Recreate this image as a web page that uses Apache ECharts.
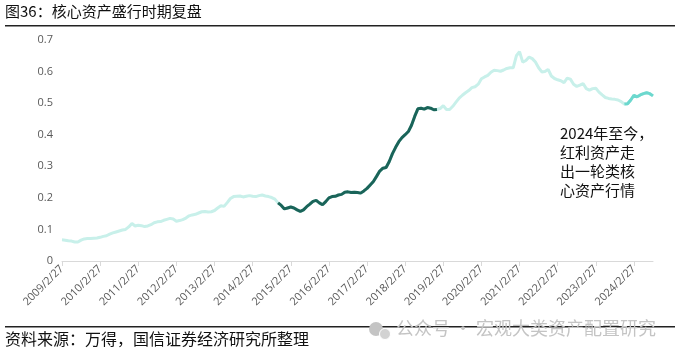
<!DOCTYPE html>
<html>
<head>
<meta charset="utf-8">
<script src="https://cdn.jsdelivr.net/npm/echarts@6/dist/echarts.min.js"></script>
<style>
html,body{margin:0;padding:0;background:#fff;}
#c{width:679px;height:360px;}
</style>
</head>
<body>
<div id="c"></div>
<script>
// Monthly observations, Feb 2009 – Aug 2024
var startYear = 2009, startMonth = 2, monthCount = 187;
var categories = [];
for (var i = 0; i < monthCount; i++) {
  var mm = startMonth - 1 + i;
  categories.push((startYear + Math.floor(mm / 12)) + '/' + (mm % 12 + 1) + '/27');
}
// 2009/2 – 2014/10 (index 0..68)
var early = [0.067,0.066,0.064,0.063,0.060,0.060,0.066,0.070,0.071,0.071,0.072,0.073,0.075,0.078,0.080,0.085,0.089,0.092,0.095,0.098,
  0.100,0.108,0.119,0.111,0.113,0.112,0.109,0.111,0.115,0.121,0.124,0.125,0.129,0.132,0.135,0.133,0.126,0.128,0.131,0.136,
  0.143,0.146,0.148,0.152,0.156,0.157,0.155,0.156,0.160,0.168,0.175,0.173,0.185,0.198,0.204,0.205,0.206,0.203,0.205,0.207,
  0.205,0.204,0.207,0.209,0.206,0.204,0.201,0.196,0.184];
// core-asset boom 2014/10 – 2018/12 (index 68..118)
var boom = [0.184,0.176,0.165,0.168,0.171,0.168,0.162,0.157,0.162,0.172,0.180,0.189,0.192,0.184,0.178,0.188,0.200,0.204,0.205,0.209,
  0.211,0.218,0.219,0.217,0.218,0.217,0.215,0.222,0.230,0.241,0.252,0.268,0.285,0.294,0.296,0.315,0.340,0.360,0.378,0.391,
  0.400,0.410,0.430,0.458,0.482,0.484,0.481,0.486,0.484,0.479,0.480];
// 2018/12 – 2023/11 (index 118..177)
var later = [0.480,0.483,0.492,0.480,0.480,0.490,0.503,0.516,0.525,0.533,0.540,0.549,0.552,0.560,0.577,0.583,0.588,0.598,0.604,0.603,
  0.601,0.605,0.610,0.612,0.612,0.650,0.663,0.630,0.635,0.646,0.641,0.630,0.612,0.599,0.600,0.607,0.586,0.578,0.574,0.571,
  0.565,0.579,0.576,0.560,0.553,0.557,0.562,0.546,0.541,0.546,0.547,0.535,0.526,0.518,0.515,0.513,0.512,0.510,0.505,0.497];
// 2023/11 – 2024/8 (index 177..186)
var recent = [0.497,0.498,0.510,0.525,0.520,0.526,0.530,0.533,0.530,0.523];

var boomStart = 68, recentStart = 177;
var allValues = early.concat(boom.slice(1), later.slice(1), recent.slice(1));
function pad(arr, start) {
  var out = [];
  for (var i = 0; i < monthCount; i++) {
    var j = i - start;
    out.push(j >= 0 && j < arr.length ? arr[j] : '-');
  }
  return out;
}

var chart = echarts.init(document.getElementById('c'));
var font = '"Noto Sans CJK SC", "Noto Sans", sans-serif';
chart.setOption({
  animation: false,
  textStyle: {fontFamily: font},
  grid: {left: 62, right: 26, top: 40, bottom: 99, containLabel: false},
  xAxis: {
    type: 'category',
    data: categories,
    boundaryGap: false,
    axisLine: {lineStyle: {color: '#d9d9d9', width: 1}},
    axisTick: {show: true, interval: 11, length: 5, lineStyle: {color: '#d9d9d9'}},
    axisLabel: {interval: 11, rotate: 45, color: '#595959', fontSize: 11, margin: 6, fontFamily: 'Open Sans, sans-serif'},
    splitLine: {show: false}
  },
  yAxis: {
    type: 'value',
    min: 0, max: 0.7, interval: 0.1,
    axisLine: {show: false},
    axisTick: {show: false},
    splitLine: {show: false},
    axisLabel: {color: '#595959', fontSize: 11, margin: 9, fontFamily: 'Open Sans, sans-serif'}
  },
  series: [
    {type: 'line', data: allValues, showSymbol: false, symbol: 'none', lineStyle: {color: '#c8f0ea', width: 3}, z: 1},
    {type: 'line', data: pad(boom, boomStart), showSymbol: false, symbol: 'none', lineStyle: {color: '#1a6459', width: 3}, z: 3},
    {type: 'line', data: pad(recent, recentStart), showSymbol: false, symbol: 'none', lineStyle: {color: '#6cd8ce', width: 3}, z: 3}
  ],
  graphic: [
    {type: 'text', left: 5, top: 4, style: {text: '图36：核心资产盛行时期复盘', font: '15px ' + font, fill: '#111'}},
    {type: 'rect', shape: {x: 5, y: 25, width: 670, height: 1.5}, style: {fill: '#222'}},
    {type: 'text', left: 560, top: 124, style: {text: '2024年至今，\n红利资产走\n出一轮类核\n心资产行情', font: '15px ' + font, fill: '#111', lineHeight: 19}},
    {type: 'rect', shape: {x: 5, y: 326, width: 670, height: 1.5}, style: {fill: '#222'}},
    {type: 'text', left: 5, top: 331, style: {text: '资料来源：万得，国信证券经济研究所整理', font: '16px ' + font, fill: '#111'}},
    {type: 'circle', shape: {cx: 376, cy: 329, r: 7}, style: {fill: '#c4c4c4'}},
    {type: 'circle', shape: {cx: 385, cy: 334, r: 5.5}, style: {fill: '#d2d2d2', stroke: '#fff', lineWidth: 1}},
    {type: 'text', left: 396, top: 319, style: {text: '公众号 · 宏观大类资产配置研究', font: '18px ' + font, fill: '#c4c4c4'}}
  ]
});
</script>
</body>
</html>
